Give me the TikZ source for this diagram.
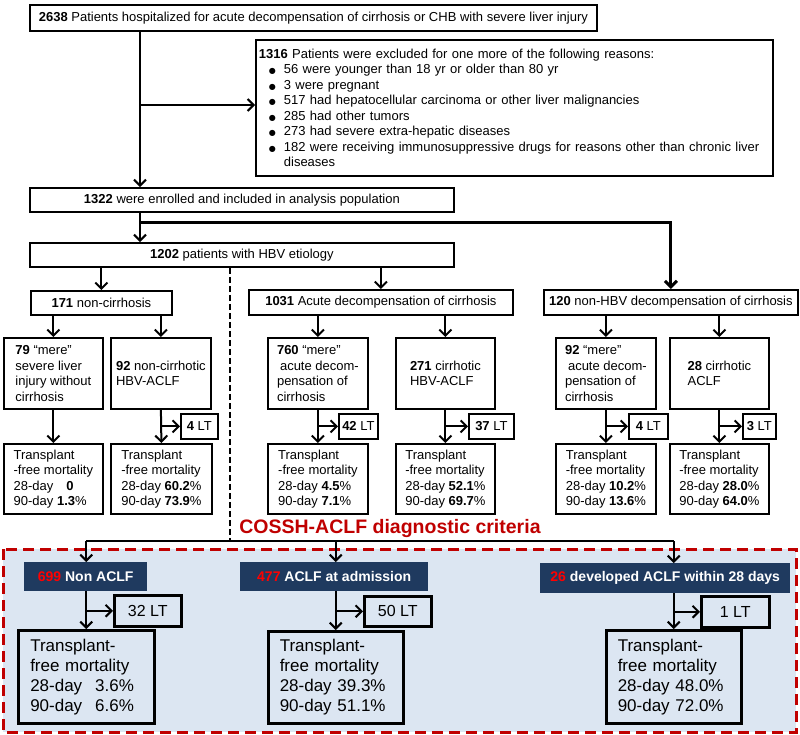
\documentclass[tikz,border=0pt]{standalone}
\usepackage{fontspec}
\setmainfont{Liberation Sans}
\newfontfamily\symfont{DejaVu Sans}
\usetikzlibrary{arrows.meta}

\definecolor{critred}{HTML}{C00000}
\definecolor{numred}{HTML}{FF0000}
\definecolor{navyfill}{HTML}{1F3A5F}
\definecolor{bgblue}{HTML}{DCE6F2}

\newcommand\boxfont{\fontsize{13}{15.5}\selectfont}
\newcommand\tffont{\fontsize{17}{20}\selectfont}
\newcommand\bul{\hspace*{10pt}\makebox[15pt][l]{{\symfont\fontsize{8}{8}\selectfont ●}}}

\begin{document}
\begin{tikzpicture}[x=1pt, y=-1pt,
    box/.style={draw, line width=1.8pt, anchor=north west, inner sep=0pt, align=left, font=\boxfont},
    cbox/.style={box, align=center},
    bbox/.style={box, line width=2.5pt, font=\tffont},
    navy/.style={fill=navyfill, anchor=north west, inner sep=0pt, align=center,
        text=white, font=\fontsize{14}{16}\selectfont\bfseries},
    wh/.style 2 args={minimum width=#1pt, minimum height=#2pt},
    arr/.style={-{Straight Barb[length=6pt,width=12pt]}, line width=2pt},
    dashline/.style={line width=2pt, dash pattern=on 6pt off 3pt},
]
\path[use as bounding box, fill=white] (0,0) rectangle (800,734);

% criteria frame
\draw[critred, fill=bgblue, line width=3pt, dash pattern=on 11pt off 6pt] (3,549) rectangle (796,732);

% top of the flow
\node[box, wh={567}{26}] (hosp) at (29,4) {\textbf{2638} Patients hospitalized for acute decompensation of cirrhosis or CHB with severe liver injury};
\node[box, wh={517}{136}, text width=511pt] (excl) at (255,39) {\textbf{1316} Patients were excluded for one more of the following reasons:\\
    \bul 56 were younger than 18 yr or older than 80 yr\\
    \bul 3 were pregnant\\
    \bul 517 had hepatocellular carcinoma or other liver malignancies\\
    \bul 285 had other tumors\\
    \bul 273 had severe extra-hepatic diseases\\
    \bul 182 were receiving immunosuppressive drugs for reasons other than chronic liver\\
    \hspace*{25pt}diseases};
\node[cbox, wh={424}{24}] (enrol) at (29,187) {\textbf{1322} were enrolled and included in analysis population};
\node[cbox, wh={424}{24}] (hbv) at (29,242) {\textbf{1202} patients with HBV etiology};

\node[cbox, wh={141}{24}] (noncir) at (30,290) {\textbf{171} non-cirrhosis};
\node[cbox, wh={264}{25}] (acdec) at (248,289) {\textbf{1031} Acute decompensation of cirrhosis};
\node[cbox, wh={254}{25}] (nonhbv) at (543,289) {\textbf{120} non-HBV decompensation of cirrhosis};

% groups
\node[box, wh={99}{71}] (mere79) at (3,337) {\textbf{79} “mere”\\severe liver\\injury without\\cirrhosis};
\node[box, wh={100}{71}] (aclf92) at (110,337) {\textbf{92} non-cirrhotic\\HBV-ACLF};
\node[box, wh={100}{71}] (mere760) at (267,337) {\textbf{760} “mere”\\\hspace*{3pt}acute decom-\\pensation of\\cirrhosis};
\node[box, wh={99}{71}] (aclf271) at (395,337) {\textbf{271} cirrhotic\\HBV-ACLF};
\node[box, wh={100}{71}] (mere92) at (555,337) {\textbf{92} “mere”\\\hspace*{3pt}acute decom-\\pensation of\\cirrhosis};
\node[box, wh={99}{71}] (aclf28) at (669,337) {\textbf{28} cirrhotic\\ACLF};

% liver transplants
\node[cbox, wh={37}{25}] (lt92) at (180,413) {\textbf{4} LT};
\node[cbox, wh={39}{25}] (lt760) at (338,413) {\textbf{42} LT};
\node[cbox, wh={45}{25}] (lt271) at (468,413) {\textbf{37} LT};
\node[cbox, wh={39}{25}] (lt92m) at (628,413) {\textbf{4} LT};
\node[cbox, wh={33}{25}] (lt28) at (742,413) {\textbf{3} LT};

% mortality
\node[box, wh={99}{70}] (tf79) at (3,443) {Transplant\\-free mortality\\28-day\hspace{13pt}\textbf{0}\\90-day \textbf{1.3}\%};
\node[box, wh={101}{70}] (tf92) at (110,443) {Transplant\\-free mortality\\28-day \textbf{60.2}\%\\90-day \textbf{73.9}\%};
\node[box, wh={100}{70}] (tf760) at (267,443) {Transplant\\-free mortality\\28-day \textbf{4.5}\%\\90-day \textbf{7.1}\%};
\node[box, wh={99}{70}] (tf271) at (395,443) {Transplant\\-free mortality\\28-day \textbf{52.1}\%\\90-day \textbf{69.7}\%};
\node[box, wh={100}{70}] (tf92m) at (555,443) {Transplant\\-free mortality\\28-day \textbf{10.2}\%\\90-day \textbf{13.6}\%};
\node[box, wh={99}{70}] (tf28) at (669,443) {Transplant\\-free mortality\\28-day \textbf{28.0}\%\\90-day \textbf{64.0}\%};

% criteria part
\node[anchor=base, text=critred, font=\fontsize{19.5}{22}\selectfont\bfseries] (crit) at (390,533) {COSSH-ACLF diagnostic criteria};
\node[navy, wh={123}{29}] (nonaclf) at (24,562) {{\color{numred}699} Non ACLF};
\node[navy, wh={188}{29}] (aclfadm) at (240,562) {{\color{numred}477} ACLF at admission};
\node[navy, wh={250}{30}] (aclfdev) at (540,563) {{\color{numred}26} developed ACLF within 28 days};

\node[bbox, wh={67}{31}, align=center, font=\fontsize{16}{18}\selectfont] (lt32) at (113,594) {32 LT};
\node[bbox, wh={67}{30}, align=center, font=\fontsize{16}{18}\selectfont] (lt50) at (363,595) {50 LT};
\node[bbox, wh={68}{31}, align=center, font=\fontsize{16}{18}\selectfont] (lt1) at (700,595) {1 LT};

\node[bbox, wh={136}{93}, text width=112pt] (tfnon) at (17,629) {Transplant-\\free mortality\\28-day\hspace{13pt}3.6\%\\90-day\hspace{13pt}6.6\%};
\node[bbox, wh={135}{92}, text width=112pt] (tfadm) at (267,630) {Transplant-\\free mortality\\28-day 39.3\%\\90-day 51.1\%};
\node[bbox, wh={135}{93}, text width=112pt] (tfdev) at (605,629) {Transplant-\\free mortality\\28-day 48.0\%\\90-day 72.0\%};

% connectors
\coordinate (trunk) at (140,105);
\coordinate (fork) at (140,222);
\coordinate (split) at (230,541);
\draw[arr] (hosp.south -| trunk) -- (enrol.north -| trunk);
\draw[arr] (trunk) -- (excl.west |- trunk);
\draw[arr] (enrol.south -| trunk) -- (hbv.north -| trunk);
\draw[arr, line width=3pt] (fork) -| (nonhbv.north);
\foreach \a/\b in {hbv/noncir, hbv/acdec, noncir/mere79, noncir/aclf92, acdec/mere760,
        acdec/aclf271, nonhbv/mere92, nonhbv/aclf28}
    \draw[arr] (\a.south -| \b.north) -- (\b.north);
\draw[arr] (mere79.south) -- (tf79.north);
\foreach \a/\l/\b in {aclf92/lt92/tf92, mere760/lt760/tf760, aclf271/lt271/tf271,
        mere92/lt92m/tf92m, aclf28/lt28/tf28} {
    \draw[arr] (\a.south) -- (\b.north);
    \draw[arr] (\l.west -| \a.south) -- (\l.west);
}

\draw[dashline] (hbv.south -| split) -- (split);
\draw[line width=1.6pt] (tfnon.north |- split) -- (tfdev.north |- split);
\foreach \a/\l/\b in {nonaclf/lt32/tfnon, aclfadm/lt50/tfadm, aclfdev/lt1/tfdev} {
    \draw[arr] (\b.north |- split) -- (\a.north -| \b.north);
    \draw[arr] (\a.south -| \b.north) -- (\b.north);
    \draw[arr] (\l.west -| \b.north) -- (\l.west);
}
\end{tikzpicture}
\end{document}
